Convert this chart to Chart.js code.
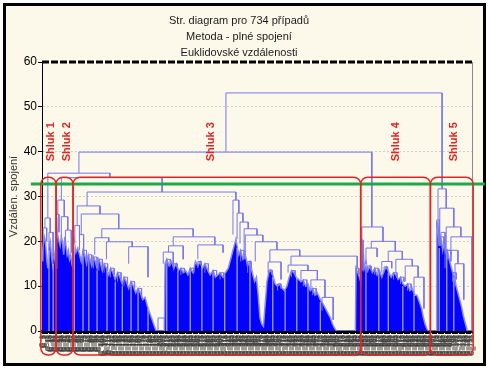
<!DOCTYPE html>
<html lang="cs">
<head>
<meta charset="utf-8">
<title>Str. diagram pro 734 případů</title>
<script src="https://cdn.jsdelivr.net/npm/chart.js@4.4.1/dist/chart.umd.min.js"></script>
<style>
  html, body { margin: 0; padding: 0; background: #fff; }
  #ram { position: absolute; left: 3px; top: 3px; width: 477px; height: 357px; border: 3px solid #000; background: #fdf9ea; }
  #obal { position: absolute; left: 0; top: 0; width: 490px; height: 370px; }
</style>
</head>
<body>
<div id="ram"></div>
<div id="obal"><canvas id="graf" width="490" height="370"></canvas></div>
<script>
// ---------- DATA ----------
const nadpis = ["Str. diagram pro 734 případů", "Metoda - plné spojení", "Euklidovské vzdálenosti"];
const popisOsyY = "Vzdálen. spojení";
const pocetPripadu = 734;
const hladinaRezu = 32.8;          // zelená čára řezu

// spoje dendrogramu: [levý, pravý, výška spoje, výška levého potomka, výška pravého potomka]
const spoje = [
  [314, 683, 53.1, 39.9, 31.7],
  [63, 563, 39.9, 35.2, 23.2],
  [10, 116, 35.2, 25.2, 34.2],
  [33, 205, 34.2, 29.2, 31.0],
  [77, 331, 31.0, 27.9, 29.2],
  // Shluk 1 a 2
  [27, 38, 29.2, 26.0, 25.5],
  [25, 29, 26.0, 24.0, 22.0],
  [33, 44, 25.5, 21.0, 22.5],
  [40, 50, 22.5, 19.0, 17.5],
  [5, 14, 25.2, 23.0, 22.0],
  [2, 8, 23.0, 15.5, 20.0],
  [12, 19, 22.0, 19.0, 16.5],
  // Shluk 3 - levá část
  [60, 99, 27.9, 23.5, 26.1],
  [56, 64, 23.5, 19.5, 20.5],
  [67, 131, 26.1, 21.5, 22.8],
  [64, 71, 21.5, 18.0, 17.5],
  [102, 258, 22.8, 20.8, 21.0],
  [90, 114, 20.8, 17.0, 19.9],
  [110, 154, 19.9, 16.0, 18.8],
  [148, 181, 18.8, 15.0, 12.0],
  [224, 295, 21.0, 19.0, 19.2],
  [216, 241, 19.0, 17.6, 16.0],
  [207, 224, 17.6, 15.0, 14.5],
  [266, 309, 19.2, 16.0, 17.5],
  [198, 209, 2.9, 0, 0],
  // Shluk 3 - pravá část
  [326, 336, 29.2, 21.5, 26.3],
  [333, 343, 26.3, 20.5, 24.3],
  [338, 352, 24.3, 19.5, 22.8],
  [345, 367, 22.8, 18.0, 21.4],
  [347, 377, 21.4, 17.0, 19.9],
  [364, 401, 19.9, 15.5, 18.1],
  [389, 440, 18.1, 15.4, 16.7],
  [425, 538, 16.7, 14.7, 14.0],
  [386, 408, 15.4, 13.0, 11.5],
  [420, 454, 14.7, 13.0, 13.5],
  [442, 470, 13.5, 11.0, 11.4],
  [459, 483, 11.4, 9.0, 7.5],
  [478, 497, 7.5, 4.5, 2.5],
  [536, 541, 14.0, 12.0, 12.5],
  // Shluk 4
  [546, 582, 23.2, 20.3, 20.0],
  [545, 548, 20.3, 19.0, 13.5],
  [562, 603, 20.0, 18.5, 17.8],
  [553, 572, 18.5, 15.0, 16.5],
  [591, 615, 17.8, 15.5, 16.0],
  [580, 597, 15.5, 13.0, 14.0],
  [604, 632, 16.0, 13.0, 14.5],
  [620, 642, 14.5, 11.0, 12.0],
  [635, 652, 12.0, 8.0, 5.0],
  // Shluk 5
  [676, 690, 31.7, 24.8, 27.4],
  [674, 678, 24.8, 23.0, 19.0],
  [679, 703, 27.4, 22.0, 23.2],
  [681, 688, 22.0, 19.0, 18.0],
  [690, 715, 23.2, 18.0, 21.0],
  [688, 710, 18.0, 14.0, 15.0],
  [705, 720, 15.0, 10.0, 7.0],
  [698, 734, 21.0, 17.0, 0],
  // drobné spoje těsně nad hustou částí
  [70, 76, 18.0, 15.0, 15.0],
  [79, 85, 17.0, 14.5, 15.0],
  [88, 94, 16.5, 14.0, 14.5],
  [97, 103, 16.0, 13.5, 14.0],
  [106, 112, 15.0, 13.0, 13.5],
  [117, 123, 14.0, 12.0, 12.5],
  [129, 135, 13.0, 11.0, 11.5],
  [140, 146, 12.0, 10.0, 10.5],
  [152, 158, 11.0, 9.0, 9.5],
  [164, 170, 9.5, 8.0, 7.5],
  [213, 219, 16.0, 14.0, 14.5],
  [225, 231, 15.0, 13.5, 14.0],
  [237, 243, 14.0, 12.5, 13.0],
  [253, 259, 14.0, 12.5, 13.0],
  [266, 272, 15.5, 14.0, 14.5],
  [278, 284, 15.0, 13.0, 13.5],
  [292, 298, 13.5, 12.0, 12.5],
  [304, 310, 13.0, 11.5, 12.0],
  [339, 345, 18.0, 15.5, 16.0],
  [351, 357, 15.5, 13.0, 14.0],
  [387, 393, 13.6, 12.0, 12.5],
  [402, 408, 10.5, 9.0, 9.5],
  [426, 432, 13.5, 12.0, 12.5],
  [446, 452, 11.4, 10.0, 10.0],
  [462, 468, 9.5, 8.0, 8.0],
  [556, 562, 14.5, 13.0, 13.5],
  [568, 574, 14.0, 12.5, 13.0],
  [584, 590, 14.3, 13.0, 13.5],
  [600, 606, 13.0, 11.5, 12.0],
  [612, 618, 12.0, 10.5, 11.0],
  [624, 630, 10.5, 9.0, 9.5],
  [680, 686, 21.0, 19.0, 19.5],
  [692, 698, 18.0, 16.0, 15.5],
  [701, 707, 13.0, 11.0, 11.5]
];

// horní obrys husté části (případy spojené na nízkých úrovních): [případ, výška]
const obrys = [
  [0, 15.5], [2, 19], [4, 21], [6, 20], [8, 16], [10, 14], [12, 19], [14, 20], [16, 17], [18, 15], [20, 18], [22, 16], [24, 14],
  [25, 25.5], [26, 22], [27, 22], [29, 20], [31, 19], [33, 21], [35, 20], [37, 17], [39, 21], [41, 19], [43, 17], [45, 18], [47, 16], [49, 17], [51, 15], [53, 14],
  [54, 21], [56, 19], [58, 17.5], [61, 18.5], [64, 17], [67, 15.5], [70, 18], [73, 17], [76, 15], [79, 17], [82, 16], [85, 14.5], [88, 16.5], [91, 15.5], [94, 14], [97, 16],
  [100, 15], [103, 13.5], [106, 15], [110, 14], [114, 12.5], [117, 14], [121, 13], [125, 11.5], [129, 13], [133, 12], [137, 10.5], [140, 12], [144, 11], [148, 9.5],
  [152, 11], [156, 10], [160, 8.5], [164, 9.5], [168, 8.5], [172, 7], [176, 7.5], [180, 5.5], [184, 4], [188, 2.5], [192, 1], [195, 0], [209, 0],
  [210, 15], [213, 16], [217, 14.5], [221, 15.5], [225, 14], [229, 15], [233, 13.5], [237, 14], [241, 13], [245, 13.5], [249, 12.5], [253, 14], [258, 13],
  [262, 15.5], [266, 14.5], [270, 15.5], [274, 14], [278, 15], [283, 13.5], [287, 12.5], [292, 13.5], [296, 12], [300, 12.5], [304, 13], [309, 12], [313, 13],
  [318, 14], [322, 16], [326, 18], [329, 19.5], [331, 20.5], [333, 19], [336, 17], [339, 18], [343, 16], [347, 17], [351, 14.5], [355, 15.5], [359, 13],
  [363, 11], [366, 12], [369, 8], [372, 3], [375, 1.5], [378, 1], [381, 6], [384, 11], [387, 13], [390, 13.6], [394, 12.5], [398, 10.5], [402, 10], [406, 10.5],
  [410, 9.5], [414, 9], [418, 10], [422, 12], [426, 13.5], [430, 13], [434, 12], [438, 11.5], [442, 11], [446, 11.4], [450, 10], [454, 10.5], [458, 9],
  [462, 9.5], [466, 8], [470, 8.5], [475, 7], [480, 6], [484, 5], [488, 4], [492, 3], [496, 1.5], [500, 0.5], [503, 0], [535, 0],
  [536, 14], [539, 13], [542, 12], [544, 11],
  [546, 20], [548, 18.5], [550, 14], [553, 15.5], [556, 13.5], [560, 14.5], [564, 13], [568, 14], [572, 12.5], [576, 13.5], [580, 12], [584, 13.5], [588, 14.3],
  [592, 13], [596, 12], [600, 13], [604, 12.5], [608, 11.5], [612, 12], [616, 10.5], [620, 10], [624, 10.5], [628, 9], [632, 9.5], [636, 8], [640, 8],
  [644, 6.5], [648, 5], [651, 3], [654, 1.5], [657, 0.5], [659, 0], [673, 0],
  [674, 24.5], [676, 23], [678, 19], [680, 21], [682, 20], [684, 18], [686, 19.5], [689, 17.5], [692, 18], [695, 16], [698, 14.5], [701, 13], [704, 12],
  [707, 10], [710, 8.5], [713, 7], [716, 5.5], [719, 3.5], [722, 2], [724, 1], [726, 0], [734, 0]
];

// svislé čáry jednotlivých případů uvnitř husté části: [případ, výška]
const listy = [
  [12, 18], [19, 15], [55, 20], [70, 17], [80, 16], [94, 13.5], [111, 13.5], [125, 11], [137, 10], [152, 10.5], [164, 9], [181, 5],
  [213, 15.5], [232, 13.5], [253, 13.5], [273, 14.5], [292, 13], [312, 12.5], [333, 18.5], [355, 15], [394, 12], [415, 9], [435, 12],
  [454, 10], [475, 6.5], [553, 15], [575, 13], [591, 13], [616, 10], [635, 8], [678, 18.5], [691, 17.5], [703, 12]
];

// shluky vyznačené červeně
const nazvyShluku = ["Shluk 1", "Shluk 2", "Shluk 3", "Shluk 4", "Shluk 5"];
const hraniceShluku = [-2, 24, 53, 544, 663, 736];
const popiskyX = [15, 42, 288, 604, 703];
const popiskyY = 42.2;
const ramecekHore = 34.3;
const ramecekDole = -5.35;

// ---------- PŘÍPRAVA BODŮ ----------
const bodySpoju = [];
spoje.forEach(([l, p, v, vl, vp]) => {
  bodySpoju.push({ x: l, y: vl }, { x: l, y: v }, { x: p, y: v }, { x: p, y: vp }, { x: p, y: null });
});

const bodyListu = [];
listy.forEach(([x, v]) => {
  bodyListu.push({ x: x, y: 0 }, { x: x, y: v }, { x: x, y: null });
});

const bodyObrysu = obrys.map(([x, v]) => ({ x: x, y: v }));

// čára řezu přesahuje přes okraje grafu
const bodyRezu = [{ x: -19, y: hladinaRezu }, { x: pocetPripadu + 22, y: hladinaRezu }];

// ---------- PLUGIN: okraje, červené rámečky a popisky ----------
const pluginShluky = {
  id: "shluky",
  afterDatasetsDraw(chart) {
    const { ctx, chartArea: a, scales: { x, y } } = chart;
    ctx.save();

    // horní okraj (STATISTICA ho kreslí přerušovaně)
    ctx.strokeStyle = "#000";
    ctx.lineWidth = 3;
    ctx.setLineDash([7, 2]);
    ctx.beginPath();
    ctx.moveTo(a.left, a.top);
    ctx.lineTo(a.right, a.top);
    ctx.stroke();
    ctx.setLineDash([]);

    // pravý okraj
    ctx.strokeStyle = "#8a8a8a";
    ctx.lineWidth = 1;
    ctx.beginPath();
    ctx.moveTo(a.right + 0.5, a.top);
    ctx.lineTo(a.right + 0.5, a.bottom);
    ctx.stroke();

    // červené rámečky
    ctx.strokeStyle = "#e32424";
    ctx.lineWidth = 1.5;
    const yH = y.getPixelForValue(ramecekHore);
    const yD = y.getPixelForValue(ramecekDole);
    for (let i = 0; i < hraniceShluku.length - 1; i++) {
      const x1 = x.getPixelForValue(hraniceShluku[i]);
      const x2 = x.getPixelForValue(hraniceShluku[i + 1]);
      ctx.beginPath();
      ctx.roundRect(x1, yH, x2 - x1, yD - yH, 7);
      ctx.stroke();
    }

    // popisky shluků
    ctx.fillStyle = "#e32424";
    ctx.font = "bold 11px 'Liberation Sans', Arial, sans-serif";
    ctx.textAlign = "center";
    ctx.textBaseline = "middle";
    nazvyShluku.forEach((t, i) => {
      ctx.save();
      ctx.translate(x.getPixelForValue(popiskyX[i]), y.getPixelForValue(popiskyY));
      ctx.rotate(-Math.PI / 2);
      ctx.fillText(t, 0, 0);
      ctx.restore();
    });

    ctx.restore();
  }
};

// ---------- GRAF ----------
Chart.defaults.font.family = "'Liberation Sans', Arial, sans-serif";

new Chart(document.getElementById("graf"), {
  type: "line",
  data: {
    datasets: [
      { label: "řez", data: bodyRezu, borderColor: "#1fa84b", borderWidth: 3, pointRadius: 0, clip: false, order: 0 },
      { label: "spoje", data: bodySpoju, borderColor: "#7676ee", borderWidth: 1, pointRadius: 0, order: 1 },
      { label: "listy", data: bodyListu, borderColor: "#cfcfff", borderWidth: 1, pointRadius: 0, order: 2 },
      { label: "obrys", data: bodyObrysu, fill: "origin", backgroundColor: "#0303fb", borderColor: "#8a8af4", borderWidth: 1.5, pointRadius: 0, order: 3 }
    ]
  },
  options: {
    responsive: false,
    animation: false,
    layout: { padding: { left: 6, right: 18, top: 0, bottom: 0 } },
    plugins: {
      legend: { display: false },
      tooltip: { enabled: false },
      title: {
        display: true,
        text: nadpis,
        color: "#1a1a1a",
        font: { size: 11, weight: "normal", lineHeight: "16px" },
        padding: { top: 13, bottom: 1 }
      }
    },
    scales: {
      x: {
        type: "linear",
        min: 0,
        max: pocetPripadu,
        afterFit: s => { s.height = 39; },
        grid: { display: true, drawOnChartArea: false, drawTicks: true, tickLength: 3, color: "#000" },
        border: { display: true, color: "#000", width: 3 },
        ticks: {
          stepSize: 2,
          autoSkip: false,
          minRotation: 90,
          maxRotation: 90,
          padding: 1,
          color: "#3c3c3c",
          font: { size: 7 },
          callback: v => "C_" + (v + 1)
        }
      },
      y: {
        min: 0,
        max: 60,
        afterFit: s => { s.width = 36; },
        grid: {
          color: c => (c.tick.value === 0 || c.tick.value === 60) ? "rgba(0,0,0,0)" : "#cfcfcf",
          tickColor: "#000",
          tickLength: 4
        },
        border: { display: true, color: "#000", width: 1, dash: [2, 2] },
        ticks: { stepSize: 10, padding: 1, color: "#000", font: { size: 12 } },
        title: {
          display: true,
          text: popisOsyY,
          color: "#333",
          font: { size: 11 },
          padding: { top: 1, bottom: 0 }
        }
      }
    }
  },
  plugins: [pluginShluky]
});
</script>
</body>
</html>
